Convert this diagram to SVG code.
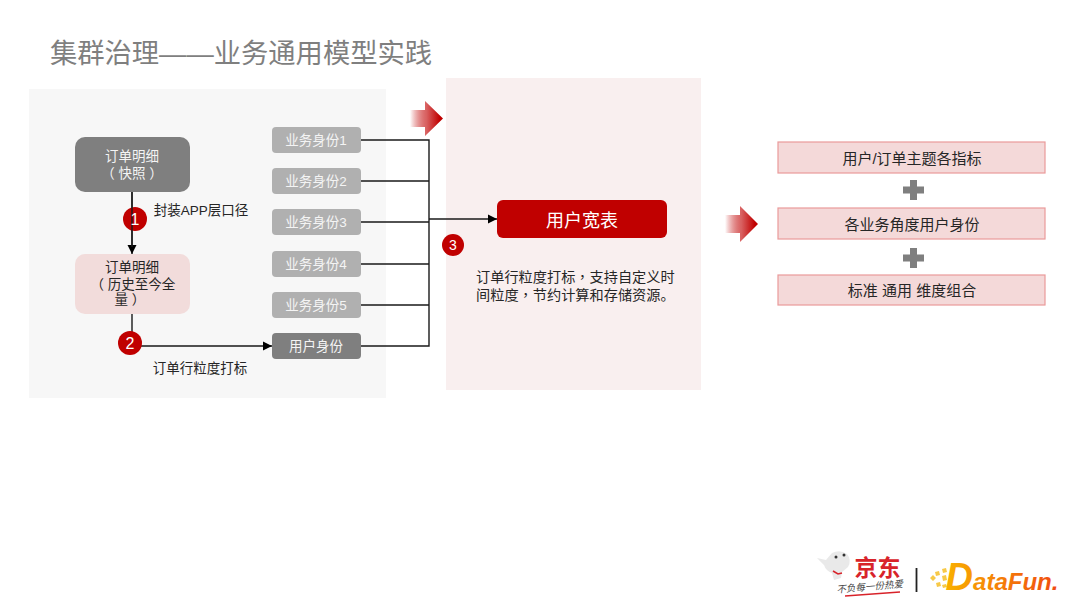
<svg xmlns="http://www.w3.org/2000/svg" width="1080" height="608" viewBox="0 0 1080 608">
<style>
text{font-family:"Liberation Sans","Noto Sans CJK SC",sans-serif;text-anchor:middle}
.t13{font-size:13.500px;fill:#262626}
.w{font-size:13.500px;fill:#f4f4f4}
.b{fill:#b0b0b0}
.c{fill:none;stroke:#1a1a1a;stroke-width:1.400}
.r{fill:#f4d9d9;stroke:#ea9a9a;stroke-width:1.200}
.n{fill:#c00000}
.p{fill:#7f7f7f}
.tc{font-family:"Noto Sans CJK TC",sans-serif}
</style>
<defs>
<marker id="a" markerUnits="userSpaceOnUse" markerWidth="11" markerHeight="11" refX="10" refY="5.500" orient="auto"><path d="M1,1L10,5.500L1,10Z" fill="#000"/></marker>
<linearGradient id="g"><stop offset="0" stop-color="#c00000" stop-opacity="0"/><stop offset="0.5" stop-color="#d86060"/><stop offset="0.9" stop-color="#c00000"/></linearGradient>
<linearGradient id="o"><stop offset="0" stop-color="#f9b000"/><stop offset="1" stop-color="#f04a10"/></linearGradient>
</defs>
<rect width="1080" height="608" fill="#fff"/>
<text x="241" y="63" style="font-size:27.300px;fill:#7f7f7f">集群治理——业务通用模型实践</text>
<rect x="29" y="89" width="357" height="309" fill="#f7f7f7"/>
<rect x="446" y="78" width="255" height="312" fill="#f9efef"/>
<g id="connectors">
<path class="c" d="M132 192V254" marker-end="url(#a)"/>
<path class="c" d="M132 314V346H272" marker-end="url(#a)"/>
<path class="c" d="M361 140H429V346H361M361 181H429M361 222H429M361 264H429M361 305H429"/>
<path class="c" d="M429 219H497" marker-end="url(#a)"/>
</g>
<g id="node-snapshot"><rect x="75" y="137" width="115" height="55" rx="10" class="p"/><text class="w" x="132" y="161">订单明细</text><text class="w" x="132" y="178">（ 快照 ）</text></g>
<g id="node-history"><rect x="75" y="254" width="115" height="60" rx="10" fill="#f2dcdb"/><text class="t13" x="132" y="272">订单明细</text><text class="t13" x="133" y="289">（ 历史至今全</text><text class="t13" x="130" y="304">量 ）</text></g>
<g id="badge-1"><circle cx="135" cy="219" r="12" class="n"/><path d="M132 192V247" class="c"/><text x="135" y="225" style="font-size:16px;fill:#fff">1</text></g>
<g id="badge-2"><circle cx="130" cy="343" r="12" class="n"/><text x="130" y="349" style="font-size:16px;fill:#fff">2</text></g>
<text class="t13" x="201" y="215">封装APP层口径</text>
<text class="t13" x="200" y="373">订单行粒度打标</text>
<g id="biz-1"><rect x="272" y="127" width="89" height="26" rx="4" class="b"/><text class="w" x="316" y="145">业务身份1</text></g>
<g id="biz-2"><rect x="272" y="168" width="89" height="26" rx="4" class="b"/><text class="w" x="316" y="186">业务身份2</text></g>
<g id="biz-3"><rect x="272" y="209" width="89" height="26" rx="4" class="b"/><text class="w" x="316" y="227">业务身份3</text></g>
<g id="biz-4"><rect x="272" y="251" width="89" height="26" rx="4" class="b"/><text class="w" x="316" y="269">业务身份4</text></g>
<g id="biz-5"><rect x="272" y="292" width="89" height="26" rx="4" class="b"/><text class="w" x="316" y="310">业务身份5</text></g>
<g id="user-id"><rect x="272" y="333" width="89" height="26" rx="4" class="p"/><text class="w" x="316" y="351">用户身份</text></g>
<g id="wide-table"><rect x="497" y="200" width="170" height="38" rx="6" fill="#c00000"/><text x="582" y="227" style="font-size:18px;fill:#fff">用户宽表</text></g>
<g id="badge-3"><circle cx="453" cy="245" r="11" class="n"/><text x="453" y="250" style="font-size:14px;fill:#fff">3</text></g>
<text class="t13" x="476" y="282" style="text-anchor:start;font-size:14.200px">订单行粒度打标<tspan class="tc">，</tspan>支持自定义时</text>
<text class="t13" x="476" y="300" style="text-anchor:start;font-size:14.200px">间粒度<tspan class="tc">，</tspan>节约计算和存储资源。</text>
<path id="arrow-1" d="M410 110H425V101L443 118.500L425 136V127H410Z" fill="url(#g)"/>
<path id="arrow-2" d="M725 215H740V206L758 224L740 242V233H725Z" fill="url(#g)"/>
<g id="box-1"><rect x="778" y="142" width="267" height="31" class="r"/><text class="t13" x="912" y="164" style="font-size:15px">用户/订单主题各指标</text></g>
<path id="plus-1" d="M910 180h7v6.500h7v7h-7v6.500h-7v-6.500h-7v-7h7Z" class="p"/>
<g id="box-2"><rect x="778" y="208" width="267" height="31" class="r"/><text class="t13" x="912" y="230" style="font-size:15px">各业务角度用户身份</text></g>
<path id="plus-2" d="M910 248h7v6.500h7v7h-7v6.500h-7v-6.500h-7v-7h7Z" class="p"/>
<g id="box-3"><rect x="778" y="275" width="267" height="30" class="r"/><text class="t13" x="912" y="296" style="font-size:15px">标准 通用 维度组合</text></g>
<g id="logo">
<path d="M817 558l9 2 6-7q8-4 15 1q5 6 1 13l-6 5-1 6-7 2-2-7q-6-2-8-8Z" fill="#e9e9e9"/>
<path d="M833 571l5 3 4-1" stroke="#d8232a" stroke-width="1.500" fill="none"/>
<circle cx="844" cy="555" r="1.500" fill="#333"/><circle cx="836" cy="557" r="1.500" fill="#333"/>
<text x="877.500" y="576" style="font-size:23px;font-weight:bold;fill:#d8232a">京东</text>
<text x="870" y="590" transform="rotate(-5 870 590)" style="font-size:9.500px;font-style:italic;fill:#444">不负每一份热爱</text>
<path d="M845 596L900 592" stroke="#d8232a" stroke-width="1.500" fill="none"/>
<path d="M916.500 568V592" stroke="#222" stroke-width="1.800"/>
<path d="M930 578l3-3 3 3-3 3ZM935 572l4-1 1 4-4 1ZM936 583l4-1 1 4-4 1ZM942 576l4-1 1 5-4 1ZM942 569l4-1 1 4-4 1ZM942 585l4-1 1 3-4 1Z" fill="#f7c948"/>
<text x="1002" y="590" style="font-weight:bold;font-style:italic;fill:url(#o);font-family:'Liberation Sans',sans-serif"><tspan style="font-size:38px">D</tspan><tspan style="font-size:24px">ataFun.</tspan></text>
</g>
</svg>
